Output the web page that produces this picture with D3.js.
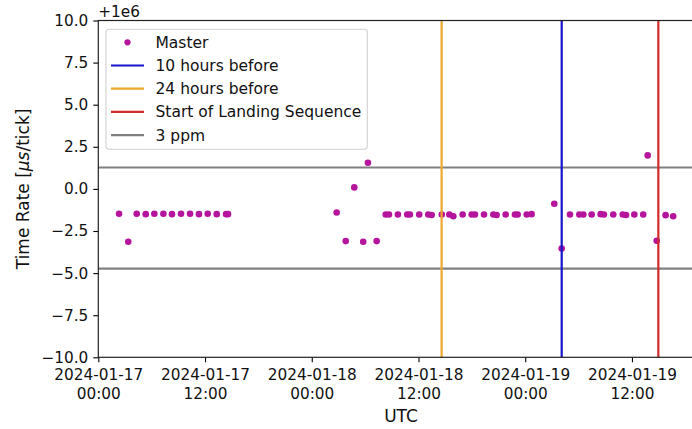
<!DOCTYPE html>
<html>
<head>
<meta charset="utf-8">
<script src="https://cdn.jsdelivr.net/npm/d3@7/dist/d3.min.js"></script>
<style>
  html, body { margin: 0; padding: 0; background: #fff; }
  svg { display: block; font-family: "DejaVu Sans", sans-serif; }
</style>
</head>
<body>
<svg id="chart" width="692" height="429"></svg>
<script>
// ---- data (offset from 1e6, µs/tick) ----
const masterTimes = [
  "2024-01-17T02:20", "2024-01-17T03:22", "2024-01-17T04:19", "2024-01-17T05:20",
  "2024-01-17T06:18", "2024-01-17T07:19", "2024-01-17T08:17", "2024-01-17T09:18",
  "2024-01-17T10:19", "2024-01-17T11:19", "2024-01-17T12:18", "2024-01-17T13:19",
  "2024-01-17T14:22", "2024-01-17T14:35",
  "2024-01-18T02:48", "2024-01-18T03:49", "2024-01-18T04:47", "2024-01-18T05:47",
  "2024-01-18T06:19", "2024-01-18T07:18", "2024-01-18T08:19", "2024-01-18T08:41",
  "2024-01-18T09:41", "2024-01-18T10:44", "2024-01-18T11:02", "2024-01-18T12:05",
  "2024-01-18T13:06", "2024-01-18T13:29", "2024-01-18T14:37", "2024-01-18T15:28",
  "2024-01-18T15:55", "2024-01-18T16:58", "2024-01-18T17:59", "2024-01-18T18:21",
  "2024-01-18T19:22", "2024-01-18T20:25", "2024-01-18T20:47", "2024-01-18T21:48",
  "2024-01-18T22:51", "2024-01-18T23:09", "2024-01-19T00:10", "2024-01-19T00:43",
  "2024-01-19T03:16", "2024-01-19T04:06", "2024-01-19T05:02", "2024-01-19T06:05",
  "2024-01-19T06:32", "2024-01-19T07:28", "2024-01-19T08:29", "2024-01-19T08:51",
  "2024-01-19T09:54", "2024-01-19T10:58", "2024-01-19T11:20", "2024-01-19T12:16",
  "2024-01-19T13:16", "2024-01-19T13:46", "2024-01-19T14:47", "2024-01-19T15:47",
  "2024-01-19T16:38"
];
const masterValues = [
  -1.48, -3.14, -1.48, -1.50,
  -1.48, -1.48, -1.50, -1.48,
  -1.48, -1.50, -1.48, -1.50,
  -1.50, -1.50,
  -1.40, -3.10, 0.09, -3.14,
  1.55, -3.10, -1.52, -1.52,
  -1.52, -1.52, -1.52, -1.52,
  -1.52, -1.55, -1.52, -1.52,
  -1.62, -1.52, -1.52, -1.52,
  -1.52, -1.52, -1.55, -1.52,
  -1.52, -1.52, -1.52, -1.50,
  -0.88, -3.54, -1.52, -1.52,
  -1.52, -1.52, -1.50, -1.52,
  -1.52, -1.52, -1.55, -1.52,
  -1.52, 1.99, -3.08, -1.56,
  -1.62
];
const eventLabels = ["10 hours before", "24 hours before", "Start of Landing Sequence"];
const eventTimes = ["2024-01-19T04:06", "2024-01-18T14:36", "2024-01-19T14:58"];
const eventColors = ["#1414c8", "#eea82c", "#d42a2a"];
const ppmLabel = "3 ppm";
const ppmBounds = [1.27, -4.73];
const yTicks = [-10, -7.5, -5, -2.5, 0, 2.5, 5, 7.5, 10];
const xDomain = ["2024-01-17T00:00", "2024-01-19T20:04"];
const yDomain = [-10, 10];

// ---- layout ----
const svg = d3.select("#chart");
const M = { left: 98.3, top: 20.5, bottom: 357.3, right: 703.7 };
const parse = s => new Date(s + ":00Z");
const x = d3.scaleUtc().domain(xDomain.map(parse)).range([M.left, M.right]);
const y = d3.scaleLinear().domain(yDomain).range([M.bottom, M.top]);
const FS = 15.3;
const pointColor = "#b5149c";

const points = masterTimes.map((t, i) => ({ t: parse(t), v: masterValues[i] }));

// horizontal 3 ppm lines
svg.append("g").selectAll("line").data(ppmBounds).join("line")
  .attr("x1", M.left).attr("x2", M.right)
  .attr("y1", d => y(d)).attr("y2", d => y(d))
  .attr("stroke", "#808080").attr("stroke-width", 2.2);

// points
svg.append("g").selectAll("circle").data(points).join("circle")
  .attr("cx", d => x(d.t)).attr("cy", d => y(d.v)).attr("r", 3.3)
  .attr("fill", pointColor);

// vertical event lines
svg.append("g").selectAll("line").data(eventTimes).join("line")
  .attr("x1", d => x(parse(d))).attr("x2", d => x(parse(d)))
  .attr("y1", M.top).attr("y2", M.bottom)
  .attr("stroke", (d, i) => eventColors[i]).attr("stroke-width", 2.2);

// axes
const fmtY = d3.format(".1f");
const yAxis = d3.axisLeft(y).tickValues(yTicks).tickFormat(fmtY).tickSize(5).tickPadding(5);
const gy = svg.append("g").attr("transform", `translate(${M.left},0)`).call(yAxis);
gy.select(".domain").remove();
gy.selectAll(".tick line").attr("stroke", "#000").attr("stroke-width", 1.1);
gy.selectAll(".tick text").attr("font-size", FS).attr("fill", "#111")
  .attr("font-family", "DejaVu Sans");

const xTicks = d3.utcHour.every(12).range(parse(xDomain[0]), d3.utcHour.offset(parse(xDomain[1]), 1));
const fmtDate = d3.utcFormat("%Y-%m-%d");
const fmtTime = d3.utcFormat("%H:%M");
const xAxis = d3.axisBottom(x).tickValues(xTicks).tickSize(5).tickFormat("");
const gx = svg.append("g").attr("transform", `translate(0,${M.bottom})`).call(xAxis);
gx.select(".domain").remove();
gx.selectAll(".tick line").attr("stroke", "#000").attr("stroke-width", 1.1);
gx.selectAll(".tick").each(function (d) {
  const t = d3.select(this).append("text").attr("fill", "#111")
    .attr("font-size", FS).attr("text-anchor", "middle").attr("font-family", "DejaVu Sans");
  t.append("tspan").attr("x", 0).attr("y", 22.5).text(fmtDate(d));
  t.append("tspan").attr("x", 0).attr("y", 41.5).text(fmtTime(d));
});

// spines
svg.append("rect").attr("x", M.left).attr("y", M.top)
  .attr("width", M.right - M.left).attr("height", M.bottom - M.top)
  .attr("fill", "none").attr("stroke", "#222").attr("stroke-width", 1.2);

// offset text
svg.append("text").attr("x", M.left).attr("y", 16.5).attr("font-size", FS)
  .attr("fill", "#111").text("+1e6");

// axis labels
svg.append("text").attr("x", 401).attr("y", 422).attr("text-anchor", "middle")
  .attr("font-size", 17).attr("fill", "#111").text("UTC");
const yl = svg.append("text")
  .attr("transform", `translate(29,${(M.top + M.bottom) / 2}) rotate(-90)`)
  .attr("text-anchor", "middle").attr("font-size", 17).attr("fill", "#111");
yl.append("tspan").text("Time Rate [");
yl.append("tspan").attr("font-style", "italic").text("μs");
yl.append("tspan").text("/tick]");

// legend
const lg = svg.append("g");
lg.append("rect").attr("x", 106).attr("y", 29.3).attr("width", 261.3).attr("height", 120)
  .attr("rx", 3).attr("fill", "#fff").attr("fill-opacity", 0.85)
  .attr("stroke", "#d0d0d0").attr("stroke-width", 1.1);
const legendItems = [
  { label: "Master", type: "point", color: pointColor },
  { label: eventLabels[0], type: "line", color: eventColors[0] },
  { label: eventLabels[1], type: "line", color: eventColors[1] },
  { label: eventLabels[2], type: "line", color: eventColors[2] },
  { label: ppmLabel, type: "line", color: "#808080" }
];
legendItems.forEach((it, i) => {
  const cy = 42.3 + i * 23.2;
  if (it.type === "point") {
    lg.append("circle").attr("cx", 127.5).attr("cy", cy).attr("r", 3.1).attr("fill", it.color);
  } else {
    lg.append("line").attr("x1", 111).attr("x2", 144).attr("y1", cy).attr("y2", cy)
      .attr("stroke", it.color).attr("stroke-width", 2.2);
  }
  lg.append("text").attr("x", 155.5).attr("y", cy + 5.4).attr("font-size", 15.5)
    .attr("fill", "#111").text(it.label);
});
</script>
</body>
</html>
